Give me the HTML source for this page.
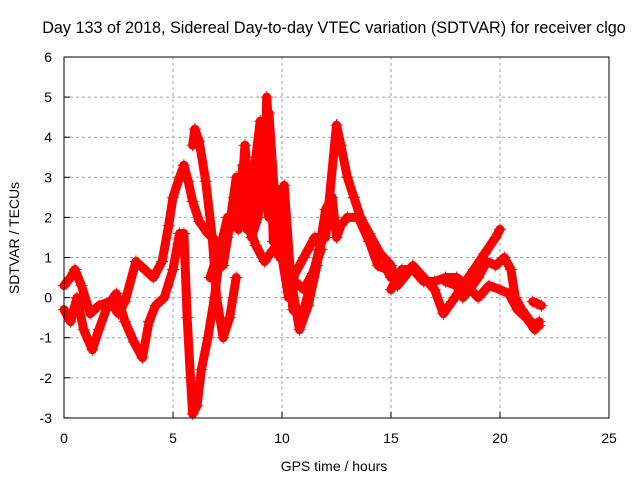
<!DOCTYPE html>
<html><head><meta charset="utf-8"><style>
body{margin:0;background:#fff;}
svg{display:block;font-family:"Liberation Sans",sans-serif;}
</style></head><body>
<svg id="chart" width="640" height="480">
<text x="334" y="33" font-size="16.2" text-anchor="middle">Day 133 of 2018, Sidereal Day-to-day VTEC variation (SDTVAR) for receiver clgo</text>
<text x="334" y="471" font-size="14" text-anchor="middle">GPS time / hours</text>
<text transform="translate(19,238) rotate(-90)" font-size="14" text-anchor="middle">SDTVAR / TECUs</text>
<g id="grid"></g><g id="ticks"></g><g id="marks"></g>
<rect x="64" y="57" width="545" height="361" fill="none" stroke="#000" stroke-width="1"/>
</svg>
<script>
const xTicks=[0,5,10,15,20,25];
const yTicks=[-3,-2,-1,0,1,2,3,4,5,6];
const s1x=[0,0.3,0.5,0.8,1.2,1.6,2.1,2.5,2.8,3.3,3.7,4.1,4.5,4.8,5.0,5.3,5.5,5.7,5.9,6.2,6.6,7.0,7.3];
const s1y=[0.3,0.5,0.7,0.3,-0.4,-0.2,-0.1,-0.4,-0.1,0.9,0.7,0.5,0.9,1.8,2.5,3.0,3.3,2.9,2.4,1.9,1.6,1.4,1.3];
const s2x=[0,0.3,0.6,0.9,1.3,1.6,2.0,2.4,2.8,3.2,3.6,3.9,4.2,4.6,5.0,5.3,5.5,5.65,5.8,5.9,6.1,6.3,6.6,6.9,7.2,7.5];
const s2y=[-0.3,-0.6,0.0,-0.8,-1.3,-0.8,-0.2,0.1,-0.6,-1.1,-1.5,-0.6,-0.2,0.0,0.7,1.6,1.6,-0.5,-2.0,-2.9,-2.7,-1.8,-1.0,0.0,1.3,2.0];
const s3x=[5.9,6.0,6.2,6.5,6.8,7.0,7.3,7.6,7.9];
const s3y=[3.8,4.2,3.9,2.9,1.5,0.0,-1.0,-0.5,0.5];
const s4x=[7.5,7.8,8.0,8.2,8.4,8.6,8.8,9.0,9.2,9.3,9.5,9.6,9.8,10.0,10.1,10.4,10.8,11.2,11.6,12.0,12.3,12.5,12.7,13.0,13.5,14.0,14.4,14.8,15.0];
const s4y=[1.5,2.5,2.0,3.3,1.7,2.7,3.5,4.4,2.8,5.0,3.2,1.4,2.7,1.8,2.8,0.5,-0.8,-0.2,0.8,2.2,2.5,1.5,1.8,2.0,2.0,1.4,0.8,0.7,0.5];
const s5x=[7.6,8.0,8.4,8.8,9.2,9.6,10.0,10.5,11.0,11.5,12.0,12.5,12.7,13.0,13.3,13.6,14.0,14.5,15.0,15.3,15.6,16.0,16.5,17.0,17.4,17.8,18.3,18.8,19.3,19.8,20.0];
const s5y=[1.7,2.0,1.9,1.3,0.9,1.2,1.0,0.5,1.0,1.5,1.5,4.3,3.8,3.0,2.5,2.0,1.6,1.1,0.8,0.3,0.5,0.8,0.5,0.2,-0.4,-0.1,0.3,0.7,1.1,1.5,1.7];
const s6x=[15,15.5,16,16.5,17,17.5,18,18.5,19,19.5,20,20.4,20.8,21.2,21.6,21.8];
const s6y=[0.2,0.7,0.7,0.4,0.4,0.5,0.5,0.3,0.0,0.3,0.2,0.1,-0.3,-0.5,-0.8,-0.6];
const s7x=[17.5,18,18.3,18.6,19,19.4,19.8,20.2,20.5,20.7,21.0,21.4,21.8];
const s7y=[0.4,0.3,0.0,0.2,0.5,0.9,0.8,1.0,0.7,0.0,-0.3,-0.6,-0.7];
const s8x=[21.5,21.7,21.9];
const s8y=[-0.1,-0.15,-0.2];
const s9x=[7.3,7.6,7.9,8.1,8.3,8.5,8.7,8.9,9.1,9.4,9.7,9.9,10.2,10.5,10.9,11.3,11.7,12.1,12.4];
const s9y=[0.8,1.8,3.0,2.2,3.8,2.4,2.0,3.2,3.8,4.6,2.2,1.0,1.5,-0.3,-0.5,0.3,1.2,1.8,2.0];
const s10x=[6.7,7.0,7.3,7.6,8.0,8.3,8.6,8.9,9.1,9.4,9.7,10.0,10.3,10.6,11.0,11.4,11.8];
const s10y=[0.5,1.0,1.5,2.0,1.7,2.4,1.5,2.0,3.0,2.0,2.3,1.0,0.0,0.4,0.2,0.6,1.2];
const series=[[s1x,s1y],[s2x,s2y],[s3x,s3y],[s4x,s4y],[s5x,s5y],[s6x,s6y],[s7x,s7y],[s8x,s8y],[s9x,s9y],[s10x,s10y]];
const X=v=>64+v*21.8, Y=v=>57+(6-v)*40.1;
const NS='http://www.w3.org/2000/svg';
const grid=document.getElementById('grid'),ticks=document.getElementById('ticks'),marks=document.getElementById('marks');
function mk(t,a,p){const e=document.createElementNS(NS,t);for(const k in a)e.setAttribute(k,a[k]);p.appendChild(e);return e;}
xTicks.forEach(v=>{
 if(v>0&&v<25){const g=mk('line',{x1:X(v),x2:X(v),y1:57,y2:418,stroke:'#a0a0a0','stroke-dasharray':'3,3'},grid);
 
 }
 mk('line',{x1:X(v),x2:X(v),y1:418,y2:412,stroke:'#000'},ticks);
 const t=mk('text',{x:X(v),y:443,'font-size':14,'text-anchor':'middle'},ticks);t.textContent=v;
 
 
});
yTicks.forEach(v=>{
 if(v>-3&&v<6){const g=mk('line',{x1:64,x2:609,y1:Y(v),y2:Y(v),stroke:'#a0a0a0','stroke-dasharray':'3,3'},grid);
 
 }
 mk('line',{x1:64,x2:70,y1:Y(v),y2:Y(v),stroke:'#000'},ticks);
 const t=mk('text',{x:52,y:Y(v)+5,'font-size':14,'text-anchor':'end'},ticks);t.textContent=v;
 
 
});
series.forEach((s,i)=>{
 const pts=s[0].map((x,j)=>X(x)+','+Y(s[1][j])).join(' ');
 const pl=mk('polyline',{points:pts,fill:'none',stroke:'#ff0000','stroke-width':9,'stroke-linejoin':'round','stroke-linecap':'round'},marks);
 
 
 s[0].forEach((x,j)=>{
  const cx=X(x),cy=Y(s[1][j]);
  const p=mk('path',{d:`M${cx-6},${cy}H${cx+6}M${cx},${cy-6}V${cy+6}`,stroke:'#ff0000','stroke-width':1},marks);
  
  
 });
});
</script>
</body></html>
